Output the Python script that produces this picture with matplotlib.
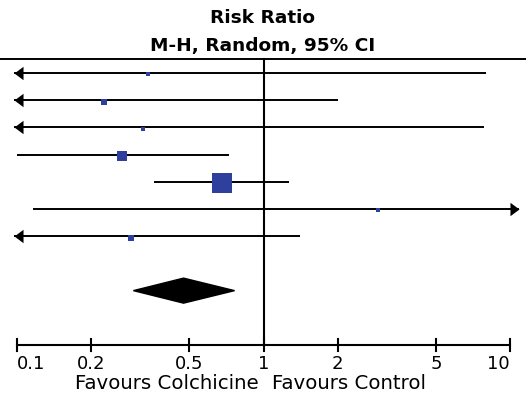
import numpy as np
import matplotlib.pyplot as plt
from matplotlib.patches import Polygon

# risk ratios and 95% CI per study (values below 0.1 / above 10 are off-scale)
rr = [0.339, 0.225, 0.325, 0.267, 0.677, 2.92, 0.290]
ci_low = [0.01, 0.02, 0.01, 0.10, 0.360, 0.116, 0.02]
ci_high = [7.98, 2.00, 7.83, 0.721, 1.264, 60.0, 1.41]
weight = [2.8, 4.4, 2.8, 17.5, 63.3, 2.8, 6.3]   # % weight -> box area

pooled = 0.473
pooled_low = 0.296
pooled_high = 0.762

ticks = [0.1, 0.2, 0.5, 1, 2, 5, 10]
tick_labels = ["0.1", "0.2", "0.5", "1", "2", "5", "10"]

fig = plt.figure(figsize=(5.26, 3.94), dpi=100)
ax = fig.add_axes([0, 0, 1, 1])
ax.set_xscale("log")
ax.set_xlim(0.0851, 11.61)
ax.set_ylim(11.80, -2.684)
ax.axis("off")

xmin, xmax = 0.1, 10
lo_tip, hi_tip = 0.097, 10.85
blue = "#2e3f9e"

larrow = [(0, 0), (7, 5.2), (7, -5.2), (0, 0)]
rarrow = [(0, 0), (-7, 5.2), (-7, -5.2), (0, 0)]

for i in range(len(rr)):
    lo = ci_low[i]
    hi = ci_high[i]
    x0 = lo_tip if lo < xmin else lo
    x1 = hi_tip if hi > xmax else hi
    ax.plot([x0, x1], [i, i], color="black", lw=1.4, solid_capstyle="butt", zorder=2)
    if lo < xmin:
        ax.plot(lo_tip, i, marker=larrow, ms=13, color="black", mew=0, zorder=3)
    if hi > xmax:
        ax.plot(hi_tip, i, marker=rarrow, ms=13, color="black", mew=0, zorder=3)
    side = 2.39 * np.sqrt(weight[i]) * 0.72
    ax.plot(rr[i], i + 0.05, marker="s", ms=side, color=blue, mew=0, zorder=4)

# pooled diamond
yd = 8
h = 0.46
ax.add_patch(Polygon([(pooled_low, yd), (pooled, yd - h), (pooled_high, yd), (pooled, yd + h)],
                     closed=True, color="black", zorder=4))

# line of no effect and header line
ax.plot([1, 1], [-0.5, 10], color="black", lw=1.5, zorder=1)
ax.axhline(-0.5, color="black", lw=1.4)

# x axis
ya = 10
ax.plot([xmin, xmax], [ya, ya], color="black", lw=1.5)
for t, lab in zip(ticks, tick_labels):
    ax.plot([t, t], [ya - 0.22, ya + 0.22], color="black", lw=1.5)
    ha = "center"
    if t == ticks[0]:
        ha = "left"
    elif t == ticks[-1]:
        ha = "right"
    ax.text(t, ya + 0.68, lab, ha=ha, va="center", fontsize=13)

ax.text(0.955, 11.4, "Favours Colchicine", ha="right", va="center", fontsize=14.2)
ax.text(1.085, 11.4, "Favours Control", ha="left", va="center", fontsize=14.2)

fig.text(0.5, 1 - 18 / 394, "Risk Ratio", ha="center", va="center", fontsize=13.3, fontweight="bold")
fig.text(0.5, 1 - 46 / 394, "M-H, Random, 95% CI", ha="center", va="center", fontsize=13.3, fontweight="bold")

fig.savefig("out.png", dpi=100)
